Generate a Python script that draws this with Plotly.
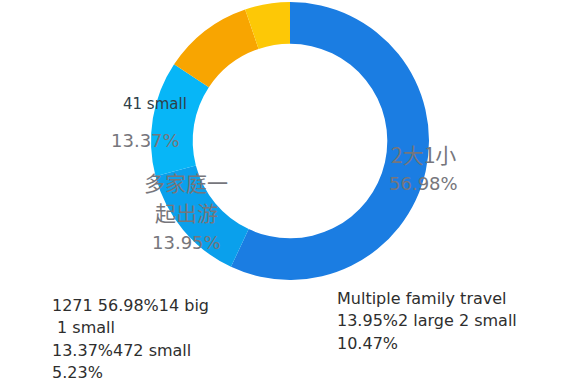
import plotly.graph_objects as go

# Travel-party share, clockwise from 12 o'clock
categories = ["2大1小", "多家庭一起出游", "41 small", "2 large 2 small", "472 small"]
shares = [56.98, 13.95, 13.37, 10.47, 5.23]
colors = ["#1b7de2", "#0aa0ec", "#07b6f7", "#f8a501", "#fdc806"]

# Footnote text blocks under the ring
left_notes = ["1271 56.98%14 big", " 1 small", "13.37%472 small", "5.23%"]
right_notes = ["Multiple family travel", "13.95%2 large 2 small", "10.47%"]

W, H = 579, 383
cx, cy, r = 290, 141, 139

fig = go.Figure(go.Pie(
    labels=categories,
    values=shares,
    hole=0.70,
    sort=False,
    direction="clockwise",
    rotation=0,
    marker=dict(colors=colors, line=dict(width=0)),
    textinfo="none",
    hoverinfo="label+percent",
    showlegend=False,
    domain=dict(x=[(cx - r) / W, (cx + r) / W],
                y=[(H - cy - r) / H, (H - cy + r) / H]),
))

ann = []

def px(x, y, text, size, color, xanchor="center", font="DejaVu Sans", weight="normal"):
    ann.append(dict(x=x / W, y=1 - y / H, xref="paper", yref="paper",
                    text=text, showarrow=False, xanchor=xanchor, yanchor="middle",
                    font=dict(size=size, color=color, family=font, weight=weight)))

grey = "#76767c"
cjk = "Noto Sans CJK SC"
# slice labels
px(423, 154, categories[0], 21, grey, font=cjk)
px(423, 184, f"{shares[0]:.2f}%", 18, grey)
px(121, 104, categories[2], 15, "#2f4048", xanchor="left")
px(145, 141, f"{shares[2]:.2f}%", 18, grey)
px(186, 182, categories[1][:4], 21, grey, font=cjk)
px(186, 212, categories[1][4:], 21, grey, font=cjk)
px(186, 243, f"{shares[1]:.2f}%", 18, grey)

# footnotes
for i, t in enumerate(left_notes):
    px(50, 305 + i * 22.5, t, 16, "#2e2e2e", xanchor="left")
for i, t in enumerate(right_notes):
    px(335, 298 + i * 22.5, t, 16, "#2e2e2e", xanchor="left")

fig.update_layout(
    width=W, height=H,
    margin=dict(l=0, r=0, t=0, b=0),
    paper_bgcolor="white",
    plot_bgcolor="white",
    annotations=ann,
)

fig.write_html("out.html")
